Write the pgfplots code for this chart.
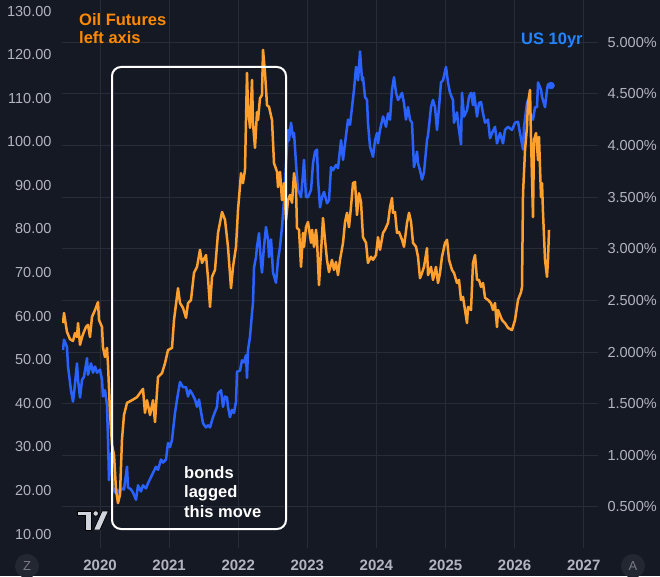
\documentclass[border=0pt]{standalone}
\usepackage{pgfplots}
\usepackage{pgfplotstable}
\pgfplotsset{compat=1.18}
\usepackage{fontspec}
\setmainfont{Liberation Sans}
\definecolor{bg}{RGB}{21,25,36}
\definecolor{gridc}{RGB}{40,44,56}
\definecolor{lab}{RGB}{178,181,190}
\definecolor{oil}{RGB}{255,159,46}
\definecolor{oiltxt}{RGB}{255,138,0}
\definecolor{bond}{RGB}{41,98,255}
\definecolor{bondtxt}{RGB}{33,133,255}
\definecolor{logo}{RGB}{209,212,220}
\definecolor{btn}{RGB}{35,39,50}
\definecolor{btntxt}{RGB}{120,123,134}

\pgfplotstableread{
t v
2019.465 58.4
2019.479 60.7
2019.522 56.4
2019.566 54.7
2019.609 54.3
2019.638 56.1
2019.667 55.2
2019.682 58.4
2019.711 53.4
2019.740 55.2
2019.768 56.4
2019.797 57.5
2019.826 58.0
2019.855 55.2
2019.884 59.8
2019.928 61.4
2019.971 63.2
2019.986 59.1
2020.029 57.5
2020.043 52.9
2020.072 50.6
2020.101 52.7
2020.116 48.8
2020.145 37.8
2020.174 30.4
2020.203 28.1
2020.232 20.1
2020.260 17.1
2020.289 19.0
2020.318 31.6
2020.347 37.3
2020.391 40.1
2020.463 40.7
2020.535 41.4
2020.622 43.3
2020.651 37.8
2020.680 40.7
2020.724 37.3
2020.767 40.7
2020.796 35.7
2020.839 46.0
2020.897 46.9
2020.941 49.2
2020.984 52.2
2021.042 52.7
2021.071 59.1
2021.129 66.4
2021.158 63.0
2021.201 61.9
2021.245 59.6
2021.274 63.0
2021.317 63.7
2021.360 69.9
2021.404 71.3
2021.447 75.2
2021.476 72.2
2021.534 74.0
2021.563 68.7
2021.592 62.1
2021.621 69.0
2021.664 70.6
2021.708 79.1
2021.766 83.9
2021.809 82.1
2021.852 75.9
2021.896 66.4
2021.925 71.3
2021.968 75.9
2021.997 84.3
2022.041 92.8
2022.069 90.5
2022.098 93.5
2022.127 115.8
2022.142 108.0
2022.171 103.2
2022.200 114.2
2022.214 104.3
2022.243 98.6
2022.272 106.8
2022.287 105.0
2022.315 110.0
2022.344 110.7
2022.359 121.1
2022.388 115.8
2022.417 108.4
2022.446 108.0
2022.489 105.0
2022.518 95.1
2022.562 93.1
2022.576 89.6
2022.605 93.1
2022.634 86.6
2022.663 90.5
2022.692 82.1
2022.721 86.6
2022.750 87.8
2022.779 86.0
2022.808 92.8
2022.836 89.6
2022.851 80.2
2022.880 79.8
2022.909 71.3
2022.938 79.1
2022.952 75.9
2022.981 80.4
2023.010 81.6
2023.054 76.8
2023.068 79.8
2023.097 75.9
2023.126 79.8
2023.140 77.5
2023.169 67.1
2023.198 74.5
2023.227 82.5
2023.256 77.5
2023.285 72.9
2023.314 70.1
2023.357 72.9
2023.386 70.6
2023.415 72.4
2023.444 69.4
2023.473 72.9
2023.517 76.8
2023.546 81.6
2023.575 83.7
2023.603 80.4
2023.632 85.0
2023.661 90.5
2023.690 90.8
2023.719 83.2
2023.748 88.2
2023.777 86.2
2023.806 78.1
2023.850 76.8
2023.878 72.2
2023.922 73.6
2023.951 72.9
2023.994 74.0
2024.023 78.1
2024.052 75.2
2024.096 79.1
2024.124 79.8
2024.168 81.4
2024.197 85.0
2024.226 87.1
2024.240 83.7
2024.269 83.9
2024.298 79.1
2024.327 79.3
2024.371 77.5
2024.399 75.9
2024.443 81.4
2024.472 83.7
2024.501 81.6
2024.530 76.8
2024.573 75.9
2024.602 73.6
2024.631 68.7
2024.660 69.9
2024.689 71.3
2024.732 75.6
2024.747 69.4
2024.790 71.3
2024.819 68.3
2024.862 71.3
2024.891 67.6
2024.920 69.9
2024.949 73.6
2024.993 76.8
2025.022 77.5
2025.051 72.9
2025.094 70.6
2025.123 69.9
2025.166 67.6
2025.195 68.3
2025.224 63.7
2025.253 64.4
2025.282 61.4
2025.311 58.4
2025.326 62.1
2025.369 61.4
2025.398 72.2
2025.427 74.0
2025.456 68.3
2025.485 68.3
2025.514 66.7
2025.543 67.6
2025.572 64.2
2025.615 63.7
2025.658 63.0
2025.687 61.4
2025.716 63.0
2025.745 57.5
2025.760 61.4
2025.818 59.1
2025.861 58.4
2025.904 57.3
2025.962 56.8
2026.006 59.1
2026.049 63.7
2026.093 65.5
2026.107 66.7
2026.122 88.2
2026.151 98.1
2026.179 103.4
2026.194 108.9
2026.223 111.9
2026.237 101.1
2026.266 82.7
2026.281 100.4
2026.310 102.0
2026.339 95.8
2026.353 101.1
2026.382 87.3
2026.397 90.5
2026.411 83.7
2026.440 72.9
2026.469 69.0
2026.483 72.9
2026.498 79.8
}\oiltab

\pgfplotstableread{
t r
2019.465 2.02
2019.479 2.12
2019.522 2.05
2019.537 1.86
2019.580 1.63
2019.609 1.52
2019.624 1.60
2019.667 1.89
2019.682 1.73
2019.711 1.56
2019.740 1.73
2019.768 1.76
2019.812 1.94
2019.826 1.78
2019.870 1.89
2019.899 1.80
2019.928 1.86
2019.957 1.80
2020.000 1.83
2020.029 1.73
2020.043 1.57
2020.072 1.63
2020.101 1.49
2020.116 1.15
2020.130 0.76
2020.159 1.02
2020.188 0.69
2020.217 0.64
2020.246 0.67
2020.275 0.64
2020.318 0.68
2020.347 0.67
2020.391 0.89
2020.405 0.69
2020.449 0.67
2020.478 0.64
2020.521 0.57
2020.550 0.71
2020.593 0.65
2020.622 0.71
2020.666 0.68
2020.695 0.73
2020.738 0.79
2020.767 0.83
2020.810 0.89
2020.839 0.86
2020.883 0.96
2020.912 0.93
2020.955 0.96
2020.984 1.12
2021.013 1.08
2021.042 1.15
2021.085 1.41
2021.129 1.60
2021.158 1.71
2021.201 1.66
2021.245 1.66
2021.274 1.57
2021.302 1.63
2021.331 1.60
2021.375 1.54
2021.404 1.47
2021.433 1.54
2021.462 1.42
2021.491 1.31
2021.534 1.27
2021.563 1.29
2021.592 1.27
2021.635 1.37
2021.693 1.47
2021.708 1.60
2021.751 1.63
2021.780 1.47
2021.809 1.57
2021.838 1.56
2021.852 1.47
2021.881 1.37
2021.910 1.44
2021.939 1.41
2021.968 1.52
2021.983 1.81
2022.026 1.82
2022.055 1.92
2022.084 1.90
2022.113 1.97
2022.127 1.75
2022.142 2.02
2022.171 2.15
2022.200 2.38
2022.214 2.48
2022.229 2.82
2022.258 2.92
2022.272 3.02
2022.301 3.15
2022.330 2.86
2022.344 2.77
2022.373 3.02
2022.402 3.21
2022.431 3.09
2022.446 2.92
2022.475 3.09
2022.504 2.77
2022.547 2.67
2022.576 2.89
2022.605 3.02
2022.634 3.21
2022.663 3.47
2022.692 3.83
2022.721 4.15
2022.735 4.05
2022.764 4.22
2022.793 4.08
2022.808 4.12
2022.836 3.83
2022.865 3.57
2022.909 3.50
2022.938 3.73
2022.952 3.86
2022.981 3.50
2023.010 3.50
2023.054 3.57
2023.083 3.83
2023.112 3.94
2023.140 3.96
2023.155 3.67
2023.184 3.40
2023.213 3.50
2023.242 3.55
2023.285 3.44
2023.314 3.47
2023.343 3.79
2023.372 3.76
2023.415 3.81
2023.444 3.78
2023.488 4.05
2023.517 3.86
2023.546 4.02
2023.589 4.25
2023.618 4.20
2023.647 4.37
2023.676 4.54
2023.705 4.76
2023.734 4.63
2023.763 4.91
2023.792 4.63
2023.806 4.66
2023.835 4.47
2023.864 4.44
2023.878 4.22
2023.907 3.99
2023.951 3.89
2023.980 4.05
2024.009 4.12
2024.023 4.02
2024.052 4.15
2024.096 4.28
2024.139 4.18
2024.168 4.31
2024.197 4.25
2024.226 4.54
2024.255 4.66
2024.284 4.51
2024.313 4.44
2024.342 4.47
2024.371 4.51
2024.399 4.41
2024.428 4.25
2024.457 4.37
2024.486 4.25
2024.515 4.22
2024.544 3.79
2024.588 3.94
2024.602 3.83
2024.631 3.76
2024.660 3.67
2024.689 3.74
2024.732 4.05
2024.747 4.10
2024.790 4.37
2024.819 4.44
2024.848 4.37
2024.877 4.15
2024.906 4.37
2024.935 4.61
2024.964 4.63
2025.007 4.76
2025.036 4.61
2025.065 4.51
2025.108 4.44
2025.123 4.22
2025.166 4.32
2025.181 4.22
2025.224 4.01
2025.239 4.51
2025.268 4.28
2025.311 4.34
2025.340 4.47
2025.369 4.51
2025.398 4.39
2025.412 4.51
2025.456 4.28
2025.485 4.41
2025.514 4.42
2025.543 4.31
2025.572 4.22
2025.615 4.25
2025.644 4.07
2025.673 4.12
2025.716 4.18
2025.745 4.02
2025.789 4.12
2025.832 4.02
2025.861 4.15
2025.904 4.18
2025.962 4.15
2026.006 4.22
2026.049 4.23
2026.078 4.12
2026.122 3.96
2026.136 4.18
2026.179 4.41
2026.194 4.44
2026.223 4.31
2026.266 4.25
2026.295 4.37
2026.324 4.37
2026.339 4.61
2026.382 4.54
2026.397 4.47
2026.440 4.37
2026.469 4.54
2026.483 4.59
2026.527 4.58
}\bondtab

\begin{document}
\begin{tikzpicture}[x=1pt,y=1pt]
\fill[bg] (0,0) rectangle (660,576);
% right axis: US 10yr, with grids
\begin{axis}[
  at={(62pt,28pt)}, anchor=south west, scale only axis,
  width=536pt, height=548pt,
  xmin=2019.45, xmax=2027.207, ymin=0.103, ymax=5.408,
  axis y line*=right, axis x line*=bottom,
  axis line style={draw=none},
  major tick style={draw=none}, minor tick style={draw=none},
  xtick={2020,2021,2022,2023,2024,2025,2026,2027},
  xticklabels={2020,2021,2022,2023,2024,2025,2026,2027},
  ytick={0.5,1,1.5,2,2.5,3,3.5,4,4.5,5},
  yticklabels={0.500\%,1.000\%,1.500\%,2.000\%,2.500\%,3.000\%,3.500\%,4.000\%,4.500\%,5.000\%},
  xmajorgrids, ymajorgrids, grid style={gridc, line width=1pt},
  xticklabel style={font=\fontsize{15}{18}\selectfont\bfseries, text=lab, yshift=-8pt},
  yticklabel style={font=\fontsize{14.5}{17}\selectfont, text=lab, xshift=6pt},
]
\addplot[bond, line width=2.5pt, line join=round] table[x=t,y=r]{\bondtab};
\addplot[bond, only marks, mark=*, mark size=3.5pt] coordinates {(2026.527,4.58)};
\end{axis}
% left axis: oil
\begin{axis}[
  at={(62pt,28pt)}, anchor=south west, scale only axis,
  width=536pt, height=548pt,
  xmin=2019.45, xmax=2027.207, ymin=6.79, ymax=132.53,
  axis y line*=left, hide x axis,
  axis line style={draw=none},
  major tick style={draw=none}, minor tick style={draw=none},
  ytick={10,20,30,40,50,60,70,80,90,100,110,120,130},
  yticklabels={10.00,20.00,30.00,40.00,50.00,60.00,70.00,80.00,90.00,100.00,110.00,120.00,130.00},
  yticklabel style={font=\fontsize{14.5}{17}\selectfont, text=lab, xshift=-7pt},
]
\addplot[oil, line width=2.5pt, line join=round] table[x=t,y=v]{\oiltab};
\end{axis}
% annotations
\node[anchor=base west, inner sep=0, text=oiltxt, font=\fontsize{16.5}{19}\selectfont\bfseries] at (79,550) {Oil Futures};
\node[anchor=base west, inner sep=0, text=oiltxt, font=\fontsize{16.5}{19}\selectfont\bfseries] at (79,532) {left axis};
\node[anchor=base west, inner sep=0, text=bondtxt, font=\fontsize{16.5}{19}\selectfont\bfseries] at (521,531) {US 10yr};
\draw[white, line width=2pt, rounded corners=9pt] (112,47) rectangle (286,509);
\node[anchor=base west, inner sep=0, text=white, font=\fontsize{16.5}{19}\selectfont\bfseries] at (184,98) {bonds};
\node[anchor=base west, inner sep=0, text=white, font=\fontsize{16.5}{19}\selectfont\bfseries] at (184,79) {lagged};
\node[anchor=base west, inner sep=0, text=white, font=\fontsize{16.5}{19}\selectfont\bfseries] at (184,59) {this move};
% logo
\filldraw[fill=logo, draw=black, line width=0.8pt] (77,65) -- (91,65) -- (91,46) -- (85,46) -- (85,61) -- (77,61) -- cycle;
\filldraw[fill=logo, draw=black, line width=0.8pt] (95.7,62.5) circle (2.8);
\filldraw[fill=logo, draw=black, line width=0.8pt] (93.5,46) -- (100,46) -- (108.5,65) -- (102,65) -- cycle;
% buttons
\fill[btn] (27,10) circle (12);
\node[text=btntxt, font=\fontsize{13}{15}\selectfont] at (27,10) {Z};
\fill[btn] (633,10) circle (12);
\node[text=btntxt, font=\fontsize{13}{15}\selectfont] at (633,10) {A};
\pgfresetboundingbox
\path[use as bounding box] (0,0) rectangle (660,576);
\end{tikzpicture}
\end{document}
